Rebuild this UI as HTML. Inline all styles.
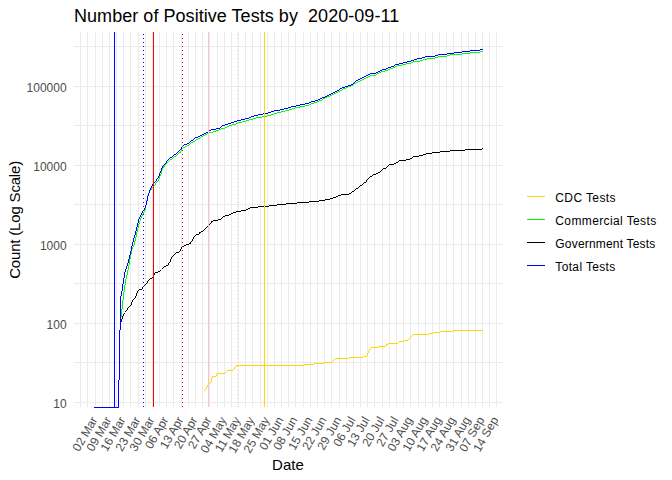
<!DOCTYPE html>
<html><head><meta charset="utf-8"><style>
html,body{margin:0;padding:0;background:#fff;width:672px;height:480px;overflow:hidden}
svg text{font-family:"Liberation Sans", sans-serif}
</style></head><body>
<svg width="672" height="480" viewBox="0 0 672 480" style="display:block">
<rect x="0" y="0" width="672" height="480" fill="#fff"/>
<g fill="#EBEBEB"><rect x="80" y="32" width="1" height="375"/><rect x="87" y="32" width="1" height="375"/><rect x="95" y="32" width="1" height="375"/><rect x="102" y="32" width="1" height="375"/><rect x="109" y="32" width="1" height="375"/><rect x="116" y="32" width="1" height="375"/><rect x="123" y="32" width="1" height="375"/><rect x="130" y="32" width="1" height="375"/><rect x="138" y="32" width="1" height="375"/><rect x="145" y="32" width="1" height="375"/><rect x="152" y="32" width="1" height="375"/><rect x="159" y="32" width="1" height="375"/><rect x="166" y="32" width="1" height="375"/><rect x="173" y="32" width="1" height="375"/><rect x="181" y="32" width="1" height="375"/><rect x="188" y="32" width="1" height="375"/><rect x="195" y="32" width="1" height="375"/><rect x="202" y="32" width="1" height="375"/><rect x="209" y="32" width="1" height="375"/><rect x="217" y="32" width="1" height="375"/><rect x="224" y="32" width="1" height="375"/><rect x="231" y="32" width="1" height="375"/><rect x="238" y="32" width="1" height="375"/><rect x="245" y="32" width="1" height="375"/><rect x="252" y="32" width="1" height="375"/><rect x="260" y="32" width="1" height="375"/><rect x="267" y="32" width="1" height="375"/><rect x="274" y="32" width="1" height="375"/><rect x="281" y="32" width="1" height="375"/><rect x="288" y="32" width="1" height="375"/><rect x="295" y="32" width="1" height="375"/><rect x="303" y="32" width="1" height="375"/><rect x="310" y="32" width="1" height="375"/><rect x="317" y="32" width="1" height="375"/><rect x="324" y="32" width="1" height="375"/><rect x="331" y="32" width="1" height="375"/><rect x="339" y="32" width="1" height="375"/><rect x="346" y="32" width="1" height="375"/><rect x="353" y="32" width="1" height="375"/><rect x="360" y="32" width="1" height="375"/><rect x="367" y="32" width="1" height="375"/><rect x="374" y="32" width="1" height="375"/><rect x="382" y="32" width="1" height="375"/><rect x="389" y="32" width="1" height="375"/><rect x="396" y="32" width="1" height="375"/><rect x="403" y="32" width="1" height="375"/><rect x="410" y="32" width="1" height="375"/><rect x="418" y="32" width="1" height="375"/><rect x="425" y="32" width="1" height="375"/><rect x="432" y="32" width="1" height="375"/><rect x="439" y="32" width="1" height="375"/><rect x="446" y="32" width="1" height="375"/><rect x="453" y="32" width="1" height="375"/><rect x="461" y="32" width="1" height="375"/><rect x="468" y="32" width="1" height="375"/><rect x="475" y="32" width="1" height="375"/><rect x="482" y="32" width="1" height="375"/><rect x="489" y="32" width="1" height="375"/><rect x="496" y="32" width="1" height="375"/><rect x="74" y="402" width="429" height="1"/><rect x="74" y="362" width="429" height="1"/><rect x="74" y="323" width="429" height="1"/><rect x="74" y="283" width="429" height="1"/><rect x="74" y="244" width="429" height="1"/><rect x="74" y="204" width="429" height="1"/><rect x="74" y="165" width="429" height="1"/><rect x="74" y="125" width="429" height="1"/><rect x="74" y="86" width="429" height="1"/><rect x="74" y="46" width="429" height="1"/></g>
<path d="M453 330h30v1h-30zM440 331h13v1h-13zM433 332h7v1h-7zM429 333h4v1h-4zM413 334h16v1h-16zM412 335h1v1h-1zM411 336h1v1h-1zM410 337h1v1h-1zM409 338h1v1h-1zM408 339h1v1h-1zM404 340h4v1h-4zM399 341h5v1h-5zM398 342h1v1h-1zM388 343h10v1h-10zM386 344h2v1h-2zM386 345h1v1h-1zM378 346h8v1h-8zM371 347h7v1h-7zM370 348h1v1h-1zM369 349h1v1h-1zM369 350h1v1h-1zM368 351h1v1h-1zM368 352h1v1h-1zM367 353h1v1h-1zM367 354h1v1h-1zM367 355h1v1h-1zM363 356h4v1h-4zM349 357h14v1h-14zM335 358h14v1h-14zM334 359h1v1h-1zM333 360h1v1h-1zM332 361h1v1h-1zM324 362h8v1h-8zM314 363h10v1h-10zM304 364h10v1h-10zM236 365h68v1h-68zM235 366h1v1h-1zM234 367h1v1h-1zM234 368h1v1h-1zM233 369h1v1h-1zM227 370h6v1h-6zM226 371h1v1h-1zM225 372h1v1h-1zM217 373h8v1h-8zM216 374h1v1h-1zM216 375h1v1h-1zM212 376h4v1h-4zM212 377h1v1h-1zM211 378h1v1h-1zM211 379h1v1h-1zM211 380h1v1h-1zM211 381h1v1h-1zM210 382h1v1h-1zM209 383h1v1h-1zM208 384h1v1h-1zM207 385h1v1h-1zM207 386h1v1h-1zM206 387h1v1h-1zM206 388h1v1h-1zM205 389h1v1h-1zM204 390h1v1h-1z" fill="#FFD700" shape-rendering="crispEdges"/>
<path d="M480 51h3v1h-3zM470 52h10v1h-10zM462 53h8v1h-8zM450 54h12v1h-12zM447 55h3v1h-3zM438 56h9v1h-9zM435 57h3v1h-3zM427 58h8v1h-8zM423 59h4v1h-4zM420 60h3v1h-3zM413 61h7v1h-7zM411 62h2v1h-2zM406 63h5v1h-5zM402 64h4v1h-4zM397 65h5v1h-5zM395 66h2v1h-2zM393 67h2v1h-2zM390 68h3v1h-3zM388 69h2v1h-2zM385 70h3v1h-3zM381 71h4v1h-4zM379 72h2v1h-2zM377 73h2v1h-2zM376 74h1v1h-1zM370 75h6v1h-6zM368 76h2v1h-2zM366 77h2v1h-2zM364 78h2v1h-2zM362 79h2v1h-2zM360 80h2v1h-2zM358 81h2v1h-2zM356 82h2v1h-2zM354 83h2v1h-2zM353 84h1v1h-1zM351 85h2v1h-2zM348 86h3v1h-3zM346 87h2v1h-2zM343 88h3v1h-3zM342 89h1v1h-1zM340 90h2v1h-2zM338 91h2v1h-2zM336 92h2v1h-2zM334 93h2v1h-2zM332 94h2v1h-2zM330 95h2v1h-2zM327 96h3v1h-3zM325 97h2v1h-2zM323 98h2v1h-2zM322 99h1v1h-1zM319 100h3v1h-3zM317 101h2v1h-2zM314 102h3v1h-3zM311 103h3v1h-3zM309 104h2v1h-2zM305 105h4v1h-4zM300 106h5v1h-5zM295 107h5v1h-5zM292 108h3v1h-3zM289 109h3v1h-3zM285 110h4v1h-4zM281 111h4v1h-4zM277 112h4v1h-4zM274 113h3v1h-3zM271 114h3v1h-3zM267 115h4v1h-4zM262 116h5v1h-5zM256 117h6v1h-6zM253 118h3v1h-3zM249 119h4v1h-4zM246 120h3v1h-3zM242 121h4v1h-4zM238 122h4v1h-4zM236 123h2v1h-2zM232 124h4v1h-4zM229 125h3v1h-3zM227 126h2v1h-2zM225 127h2v1h-2zM221 128h4v1h-4zM219 129h2v1h-2zM216 130h3v1h-3zM213 131h3v1h-3zM209 132h4v1h-4zM207 133h2v1h-2zM205 134h2v1h-2zM203 135h2v1h-2zM201 136h2v1h-2zM200 137h1v1h-1zM198 138h2v1h-2zM196 139h2v1h-2zM195 140h1v1h-1zM193 141h2v1h-2zM191 142h2v1h-2zM190 143h1v1h-1zM189 144h1v1h-1zM187 145h2v1h-2zM185 146h2v1h-2zM183 147h2v1h-2zM182 148h1v1h-1zM181 149h1v1h-1zM181 150h1v1h-1zM180 151h1v1h-1zM179 152h2v1h-2zM178 153h1v1h-1zM177 154h1v1h-1zM176 155h1v1h-1zM174 156h2v1h-2zM173 157h1v1h-1zM172 158h1v1h-1zM170 159h2v1h-2zM169 160h1v1h-1zM168 161h1v1h-1zM167 162h1v1h-1zM166 163h1v1h-1zM165 164h1v1h-1zM164 165h1v1h-1zM163 166h2v1h-2zM163 167h1v1h-1zM162 168h1v1h-1zM162 169h1v1h-1zM161 170h1v1h-1zM161 171h1v1h-1zM161 172h1v1h-1zM161 173h1v1h-1zM160 174h1v1h-1zM160 175h1v1h-1zM159 176h1v1h-1zM159 177h1v1h-1zM159 178h1v1h-1zM158 179h1v1h-1zM158 180h1v1h-1zM157 181h1v1h-1zM156 182h1v1h-1zM155 183h1v1h-1zM155 184h1v1h-1zM154 185h1v1h-1zM153 186h1v1h-1zM152 187h1v1h-1zM151 188h1v1h-1zM151 189h1v1h-1zM150 190h1v1h-1zM149 191h1v1h-1zM149 192h1v1h-1zM148 193h1v1h-1zM148 194h1v1h-1zM147 195h1v1h-1zM147 196h1v1h-1zM147 197h1v1h-1zM147 198h1v1h-1zM147 199h1v1h-1zM146 200h1v1h-1zM146 201h1v1h-1zM146 202h1v1h-1zM146 203h1v1h-1zM146 204h1v1h-1zM145 205h1v1h-1zM145 206h1v1h-1zM145 207h1v1h-1zM145 208h1v1h-1zM145 209h1v1h-1zM144 210h1v1h-1zM144 211h1v1h-1zM143 212h1v1h-1zM143 213h1v1h-1zM142 214h1v1h-1zM142 215h1v1h-1zM141 216h1v1h-1zM141 217h1v1h-1zM140 218h1v1h-1zM140 219h1v1h-1zM140 220h1v1h-1zM139 221h1v1h-1zM139 222h1v1h-1zM139 223h1v1h-1zM138 224h1v1h-1zM138 225h1v1h-1zM138 226h1v1h-1zM138 227h1v1h-1zM137 228h1v1h-1zM137 229h1v1h-1zM137 230h1v1h-1zM137 231h1v1h-1zM136 232h1v1h-1zM136 233h1v1h-1zM136 234h1v1h-1zM136 235h1v1h-1zM136 236h1v1h-1zM135 237h1v1h-1zM135 238h1v1h-1zM135 239h1v1h-1zM135 240h1v1h-1zM134 241h1v1h-1zM134 242h1v1h-1zM134 243h1v1h-1zM134 244h1v1h-1zM133 245h1v1h-1zM133 246h1v1h-1zM132 247h1v1h-1zM132 248h1v1h-1zM131 249h1v1h-1zM131 250h1v1h-1zM131 251h1v1h-1zM131 252h1v1h-1zM131 253h1v1h-1zM130 254h1v1h-1zM130 255h1v1h-1zM130 256h1v1h-1zM130 257h1v1h-1zM130 258h1v1h-1zM129 259h1v1h-1zM129 260h1v1h-1zM129 261h1v1h-1zM129 262h1v1h-1zM129 263h1v1h-1zM129 264h1v1h-1zM128 265h1v1h-1zM128 266h1v1h-1zM128 267h1v1h-1zM128 268h1v1h-1zM128 269h1v1h-1zM127 270h1v1h-1zM127 271h1v1h-1zM127 272h1v1h-1zM127 273h1v1h-1zM127 274h1v1h-1zM126 275h1v1h-1zM126 276h1v1h-1zM126 277h1v1h-1zM126 278h1v1h-1zM125 279h1v1h-1zM125 280h1v1h-1zM125 281h1v1h-1zM125 282h1v1h-1zM125 283h1v1h-1zM125 284h1v1h-1zM124 285h1v1h-1zM124 286h1v1h-1zM124 287h1v1h-1zM124 288h1v1h-1zM124 289h1v1h-1zM124 290h1v1h-1zM124 291h1v1h-1zM123 292h1v1h-1zM123 293h1v1h-1zM123 294h1v1h-1zM123 295h1v1h-1zM123 296h1v1h-1zM123 297h1v1h-1zM123 298h1v1h-1zM123 299h1v1h-1zM122 300h1v1h-1zM122 301h1v1h-1zM122 302h1v1h-1zM122 303h1v1h-1zM122 304h1v1h-1zM122 305h1v1h-1zM122 306h1v1h-1zM122 307h1v1h-1zM122 308h1v1h-1zM121 309h1v1h-1zM121 310h1v1h-1zM121 311h1v1h-1zM121 312h1v1h-1zM121 313h1v1h-1zM121 314h1v1h-1zM121 315h1v1h-1zM121 316h1v1h-1zM120 317h1v1h-1zM120 318h1v1h-1zM120 319h1v1h-1zM120 320h1v1h-1zM120 321h1v1h-1zM120 322h1v1h-1zM120 323h1v1h-1zM120 324h1v1h-1zM120 325h1v1h-1zM120 326h1v1h-1zM120 327h1v1h-1zM120 328h1v1h-1zM120 329h1v1h-1zM119 330h1v1h-1zM119 331h1v1h-1zM119 332h1v1h-1zM119 333h1v1h-1zM119 334h1v1h-1zM119 335h1v1h-1zM119 336h1v1h-1zM119 337h1v1h-1zM119 338h1v1h-1zM119 339h1v1h-1zM119 340h1v1h-1zM119 341h1v1h-1zM119 342h1v1h-1zM119 343h1v1h-1zM119 344h1v1h-1zM119 345h1v1h-1zM119 346h1v1h-1zM119 347h1v1h-1zM119 348h1v1h-1zM119 349h1v1h-1zM119 350h1v1h-1zM119 351h1v1h-1zM119 352h1v1h-1zM119 353h1v1h-1zM119 354h1v1h-1zM119 355h1v1h-1zM119 356h1v1h-1zM119 357h1v1h-1zM119 358h1v1h-1zM119 359h1v1h-1zM119 360h1v1h-1zM119 361h1v1h-1zM119 362h1v1h-1zM119 363h1v1h-1zM119 364h1v1h-1zM119 365h1v1h-1zM119 366h1v1h-1zM119 367h1v1h-1zM119 368h1v1h-1zM119 369h1v1h-1zM119 370h1v1h-1zM119 371h1v1h-1zM119 372h1v1h-1zM119 373h1v1h-1zM119 374h1v1h-1zM119 375h1v1h-1zM119 376h1v1h-1zM119 377h1v1h-1zM119 378h1v1h-1zM119 379h1v1h-1zM118 380h1v1h-1zM118 381h1v1h-1zM118 382h1v1h-1zM118 383h1v1h-1zM118 384h1v1h-1zM118 385h1v1h-1zM118 386h1v1h-1zM118 387h1v1h-1zM118 388h1v1h-1zM118 389h1v1h-1zM118 390h1v1h-1zM118 391h1v1h-1zM118 392h1v1h-1zM118 393h1v1h-1zM118 394h1v1h-1zM118 395h1v1h-1zM118 396h1v1h-1zM118 397h1v1h-1zM118 398h1v1h-1zM118 399h1v1h-1zM118 400h1v1h-1zM118 401h1v1h-1zM118 402h1v1h-1zM118 403h1v1h-1zM118 404h1v1h-1zM118 405h1v1h-1zM118 406h1v1h-1zM94 407h25v1h-25z" fill="#00FF00" shape-rendering="crispEdges"/>
<path d="M482 148h1v1h-1zM465 149h17v1h-17zM450 150h15v1h-15zM440 151h10v1h-10zM432 152h8v1h-8zM426 153h6v1h-6zM423 154h3v1h-3zM419 155h4v1h-4zM413 156h6v1h-6zM412 157h1v1h-1zM410 158h2v1h-2zM406 159h4v1h-4zM399 160h7v1h-7zM398 161h1v1h-1zM396 162h2v1h-2zM394 163h2v1h-2zM389 164h5v1h-5zM388 165h1v1h-1zM387 166h1v1h-1zM386 167h1v1h-1zM383 168h3v1h-3zM382 169h1v1h-1zM381 170h1v1h-1zM380 171h1v1h-1zM378 172h2v1h-2zM376 173h2v1h-2zM373 174h3v1h-3zM372 175h1v1h-1zM370 176h2v1h-2zM369 177h1v1h-1zM368 178h1v1h-1zM367 179h1v1h-1zM366 180h1v1h-1zM366 181h1v1h-1zM364 182h2v1h-2zM363 183h1v1h-1zM362 184h1v1h-1zM360 185h2v1h-2zM359 186h1v1h-1zM358 187h1v1h-1zM356 188h2v1h-2zM355 189h1v1h-1zM354 190h1v1h-1zM352 191h2v1h-2zM351 192h1v1h-1zM349 193h2v1h-2zM341 194h8v1h-8zM338 195h3v1h-3zM336 196h2v1h-2zM333 197h3v1h-3zM330 198h3v1h-3zM325 199h5v1h-5zM319 200h6v1h-6zM309 201h10v1h-10zM297 202h12v1h-12zM286 203h11v1h-11zM277 204h9v1h-9zM269 205h8v1h-8zM258 206h11v1h-11zM250 207h8v1h-8zM248 208h2v1h-2zM246 209h2v1h-2zM241 210h5v1h-5zM236 211h5v1h-5zM233 212h3v1h-3zM231 213h2v1h-2zM229 214h2v1h-2zM225 215h4v1h-4zM223 216h2v1h-2zM222 217h1v1h-1zM221 218h1v1h-1zM218 219h3v1h-3zM213 220h5v1h-5zM211 221h2v1h-2zM211 222h1v1h-1zM210 223h1v1h-1zM209 224h1v1h-1zM208 225h1v1h-1zM207 226h1v1h-1zM206 227h1v1h-1zM205 228h1v1h-1zM204 229h1v1h-1zM203 230h1v1h-1zM201 231h2v1h-2zM199 232h2v1h-2zM199 233h1v1h-1zM196 234h3v1h-3zM195 235h1v1h-1zM194 236h1v1h-1zM193 237h1v1h-1zM193 238h1v1h-1zM192 239h1v1h-1zM192 240h1v1h-1zM191 241h1v1h-1zM190 242h1v1h-1zM189 243h2v1h-2zM186 244h3v1h-3zM184 245h2v1h-2zM182 246h2v1h-2zM181 247h1v1h-1zM181 248h1v1h-1zM180 249h1v1h-1zM180 250h1v1h-1zM179 251h1v1h-1zM176 252h3v1h-3zM175 253h1v1h-1zM174 254h1v1h-1zM173 255h1v1h-1zM172 256h1v1h-1zM171 257h1v1h-1zM171 258h1v1h-1zM170 259h1v1h-1zM170 260h1v1h-1zM170 261h1v1h-1zM169 262h1v1h-1zM168 263h1v1h-1zM168 264h1v1h-1zM166 265h2v1h-2zM164 266h2v1h-2zM163 267h1v1h-1zM162 268h1v1h-1zM160 270h1v1h-1zM158 271h2v1h-2zM155 272h3v1h-3zM154 273h1v1h-1zM154 274h1v1h-1zM153 275h1v1h-1zM153 276h1v1h-1zM152 277h1v1h-1zM150 278h2v1h-2zM149 279h1v1h-1zM148 280h1v1h-1zM147 281h1v1h-1zM147 282h1v1h-1zM146 283h1v1h-1zM145 284h1v1h-1zM144 285h1v1h-1zM143 286h1v1h-1zM142 287h1v1h-1zM142 288h1v1h-1zM139 289h3v1h-3zM138 290h1v1h-1zM137 291h1v1h-1zM137 292h1v1h-1zM136 293h1v1h-1zM136 294h1v1h-1zM136 295h1v1h-1zM135 296h1v1h-1zM135 297h1v1h-1zM134 298h1v1h-1zM133 299h1v1h-1zM132 300h1v1h-1zM132 301h1v1h-1zM131 302h1v1h-1zM131 303h1v1h-1zM131 304h1v1h-1zM130 305h1v1h-1zM129 306h1v1h-1zM128 307h1v1h-1zM127 308h1v1h-1zM127 309h1v1h-1zM126 310h1v1h-1zM125 311h1v1h-1zM124 313h1v1h-1zM123 314h1v1h-1zM123 315h1v1h-1zM122 316h1v1h-1zM122 317h1v1h-1zM122 318h1v1h-1zM121 319h1v1h-1zM121 320h1v1h-1zM121 321h1v1h-1zM120 322h1v1h-1zM120 323h1v1h-1zM120 324h1v1h-1zM120 325h1v1h-1zM120 326h1v1h-1zM120 327h1v1h-1zM120 328h1v1h-1zM120 329h1v1h-1zM119 330h1v1h-1zM119 331h1v1h-1zM119 332h1v1h-1zM119 333h1v1h-1zM119 334h1v1h-1zM119 335h1v1h-1zM119 336h1v1h-1zM119 337h1v1h-1zM119 338h1v1h-1zM119 339h1v1h-1zM119 340h1v1h-1zM119 341h1v1h-1zM119 342h1v1h-1zM119 343h1v1h-1zM119 344h1v1h-1zM119 345h1v1h-1zM119 346h1v1h-1zM119 347h1v1h-1zM119 348h1v1h-1zM119 349h1v1h-1zM119 350h1v1h-1zM119 351h1v1h-1zM119 352h1v1h-1zM119 353h1v1h-1zM119 354h1v1h-1zM119 355h1v1h-1zM119 356h1v1h-1zM119 357h1v1h-1zM119 358h1v1h-1zM119 359h1v1h-1zM119 360h1v1h-1zM119 361h1v1h-1zM119 362h1v1h-1zM119 363h1v1h-1zM119 364h1v1h-1zM119 365h1v1h-1zM119 366h1v1h-1zM119 367h1v1h-1zM119 368h1v1h-1zM119 369h1v1h-1zM119 370h1v1h-1zM119 371h1v1h-1zM119 372h1v1h-1zM119 373h1v1h-1zM119 374h1v1h-1zM119 375h1v1h-1zM119 376h1v1h-1zM119 377h1v1h-1zM119 378h1v1h-1zM119 379h1v1h-1zM118 380h1v1h-1zM118 381h1v1h-1zM118 382h1v1h-1zM118 383h1v1h-1zM118 384h1v1h-1zM118 385h1v1h-1zM118 386h1v1h-1zM118 387h1v1h-1zM118 388h1v1h-1zM118 389h1v1h-1zM118 390h1v1h-1zM118 391h1v1h-1zM118 392h1v1h-1zM118 393h1v1h-1zM118 394h1v1h-1zM118 395h1v1h-1zM118 396h1v1h-1zM118 397h1v1h-1zM118 398h1v1h-1zM118 399h1v1h-1zM118 400h1v1h-1zM118 401h1v1h-1zM118 402h1v1h-1zM118 403h1v1h-1zM118 404h1v1h-1zM118 405h1v1h-1zM118 406h1v1h-1zM94 407h25v1h-25z" fill="#000000" shape-rendering="crispEdges"/>
<path d="M480 49h3v1h-3zM470 50h10v1h-10zM462 51h8v1h-8zM454 52h8v1h-8zM447 53h7v1h-7zM438 54h9v1h-9zM435 55h3v1h-3zM425 56h10v1h-10zM422 57h3v1h-3zM417 58h5v1h-5zM414 59h3v1h-3zM411 60h3v1h-3zM407 61h4v1h-4zM403 62h4v1h-4zM399 63h4v1h-4zM395 64h4v1h-4zM394 65h1v1h-1zM391 66h3v1h-3zM388 67h3v1h-3zM386 68h2v1h-2zM382 69h4v1h-4zM380 70h2v1h-2zM378 71h2v1h-2zM376 72h2v1h-2zM370 73h6v1h-6zM368 74h2v1h-2zM366 75h2v1h-2zM364 76h2v1h-2zM362 77h2v1h-2zM360 78h2v1h-2zM358 79h2v1h-2zM356 80h2v1h-2zM355 81h1v1h-1zM354 82h1v1h-1zM353 83h1v1h-1zM351 84h2v1h-2zM348 85h3v1h-3zM345 86h3v1h-3zM342 87h3v1h-3zM340 88h2v1h-2zM339 89h1v1h-1zM337 90h2v1h-2zM335 91h2v1h-2zM333 92h2v1h-2zM331 93h2v1h-2zM329 94h2v1h-2zM327 95h2v1h-2zM325 96h2v1h-2zM322 97h3v1h-3zM320 98h2v1h-2zM318 99h2v1h-2zM315 100h3v1h-3zM311 101h4v1h-4zM309 102h2v1h-2zM305 103h4v1h-4zM300 104h5v1h-5zM296 105h4v1h-4zM291 106h5v1h-5zM288 107h3v1h-3zM284 108h4v1h-4zM280 109h4v1h-4zM274 110h6v1h-6zM271 111h3v1h-3zM268 112h3v1h-3zM263 113h5v1h-5zM258 114h5v1h-5zM254 115h4v1h-4zM251 116h3v1h-3zM249 117h2v1h-2zM245 118h4v1h-4zM241 119h4v1h-4zM237 120h4v1h-4zM234 121h3v1h-3zM231 122h3v1h-3zM228 123h3v1h-3zM225 124h3v1h-3zM222 125h3v1h-3zM221 126h1v1h-1zM220 127h1v1h-1zM216 128h4v1h-4zM211 129h5v1h-5zM209 130h2v1h-2zM208 131h1v1h-1zM206 132h2v1h-2zM204 133h2v1h-2zM202 134h2v1h-2zM200 135h2v1h-2zM198 136h2v1h-2zM195 137h3v1h-3zM194 138h1v1h-1zM193 139h1v1h-1zM191 140h2v1h-2zM190 141h1v1h-1zM189 142h1v1h-1zM187 143h2v1h-2zM184 144h3v1h-3zM183 145h1v1h-1zM182 146h1v1h-1zM181 147h1v1h-1zM181 148h1v1h-1zM180 149h1v1h-1zM179 150h1v1h-1zM178 151h1v1h-1zM177 152h1v1h-1zM176 153h1v1h-1zM174 154h2v1h-2zM173 155h1v1h-1zM172 156h1v1h-1zM170 157h2v1h-2zM169 158h1v1h-1zM168 159h1v1h-1zM167 160h1v1h-1zM166 161h1v1h-1zM166 162h1v1h-1zM165 163h1v1h-1zM164 164h1v1h-1zM163 165h1v1h-1zM162 166h1v1h-1zM162 167h1v1h-1zM161 168h1v1h-1zM161 169h1v1h-1zM161 170h1v1h-1zM160 171h1v1h-1zM160 172h1v1h-1zM159 173h1v1h-1zM159 174h1v1h-1zM159 175h1v1h-1zM158 176h1v1h-1zM158 177h1v1h-1zM157 178h1v1h-1zM156 179h1v1h-1zM156 180h1v1h-1zM155 181h1v1h-1zM154 182h1v1h-1zM153 183h1v1h-1zM152 184h1v1h-1zM152 185h1v1h-1zM151 186h1v1h-1zM151 187h1v1h-1zM150 188h1v1h-1zM150 189h1v1h-1zM149 190h1v1h-1zM149 191h1v1h-1zM149 192h1v1h-1zM148 193h1v1h-1zM148 194h1v1h-1zM148 195h1v1h-1zM147 196h1v1h-1zM147 197h1v1h-1zM147 198h1v1h-1zM147 199h1v1h-1zM147 200h1v1h-1zM146 201h1v1h-1zM146 202h1v1h-1zM146 203h1v1h-1zM146 204h1v1h-1zM145 205h1v1h-1zM145 206h1v1h-1zM145 207h1v1h-1zM144 208h1v1h-1zM144 209h1v1h-1zM143 210h1v1h-1zM142 211h1v1h-1zM142 212h1v1h-1zM141 213h1v1h-1zM141 214h1v1h-1zM140 215h1v1h-1zM140 216h1v1h-1zM139 217h1v1h-1zM139 218h1v1h-1zM138 219h1v1h-1zM138 220h1v1h-1zM138 221h1v1h-1zM138 222h1v1h-1zM137 223h1v1h-1zM137 224h1v1h-1zM137 225h1v1h-1zM137 226h1v1h-1zM136 227h1v1h-1zM136 228h1v1h-1zM136 229h1v1h-1zM136 230h1v1h-1zM135 231h1v1h-1zM135 232h1v1h-1zM135 233h1v1h-1zM135 234h1v1h-1zM134 235h1v1h-1zM134 236h1v1h-1zM134 237h1v1h-1zM133 238h1v1h-1zM133 239h1v1h-1zM133 240h1v1h-1zM133 241h1v1h-1zM132 242h1v1h-1zM132 243h1v1h-1zM132 244h1v1h-1zM132 245h1v1h-1zM131 246h1v1h-1zM131 247h1v1h-1zM131 248h1v1h-1zM131 249h1v1h-1zM131 250h1v1h-1zM130 251h1v1h-1zM130 252h1v1h-1zM130 253h1v1h-1zM130 254h1v1h-1zM129 255h1v1h-1zM129 256h1v1h-1zM129 257h1v1h-1zM129 258h1v1h-1zM128 259h1v1h-1zM128 260h1v1h-1zM128 261h1v1h-1zM128 262h1v1h-1zM127 263h1v1h-1zM127 264h1v1h-1zM127 265h1v1h-1zM126 266h1v1h-1zM126 267h1v1h-1zM126 268h1v1h-1zM125 269h1v1h-1zM125 270h1v1h-1zM125 271h1v1h-1zM124 272h1v1h-1zM124 273h1v1h-1zM124 274h1v1h-1zM124 275h1v1h-1zM124 276h1v1h-1zM124 277h1v1h-1zM123 278h1v1h-1zM123 279h1v1h-1zM123 280h1v1h-1zM123 281h1v1h-1zM123 282h1v1h-1zM123 283h1v1h-1zM122 284h1v1h-1zM122 285h1v1h-1zM122 286h1v1h-1zM122 287h1v1h-1zM122 288h1v1h-1zM122 289h1v1h-1zM122 290h1v1h-1zM121 291h1v1h-1zM121 292h1v1h-1zM121 293h1v1h-1zM121 294h1v1h-1zM121 295h1v1h-1zM120 296h1v1h-1zM120 297h1v1h-1zM120 298h1v1h-1zM120 299h1v1h-1zM120 300h1v1h-1zM120 301h1v1h-1zM120 302h1v1h-1zM120 303h1v1h-1zM120 304h1v1h-1zM120 305h1v1h-1zM120 306h1v1h-1zM120 307h1v1h-1zM120 308h1v1h-1zM120 309h1v1h-1zM120 310h1v1h-1zM120 311h1v1h-1zM120 312h1v1h-1zM120 313h1v1h-1zM120 314h1v1h-1zM120 315h1v1h-1zM120 316h1v1h-1zM120 317h1v1h-1zM120 318h1v1h-1zM120 319h1v1h-1zM120 320h1v1h-1zM120 321h1v1h-1zM120 322h1v1h-1zM120 323h1v1h-1zM120 324h1v1h-1zM120 325h1v1h-1zM120 326h1v1h-1zM120 327h1v1h-1zM120 328h1v1h-1zM120 329h1v1h-1zM119 330h1v1h-1zM119 331h1v1h-1zM119 332h1v1h-1zM119 333h1v1h-1zM119 334h1v1h-1zM119 335h1v1h-1zM119 336h1v1h-1zM119 337h1v1h-1zM119 338h1v1h-1zM119 339h1v1h-1zM119 340h1v1h-1zM119 341h1v1h-1zM119 342h1v1h-1zM119 343h1v1h-1zM119 344h1v1h-1zM119 345h1v1h-1zM119 346h1v1h-1zM119 347h1v1h-1zM119 348h1v1h-1zM119 349h1v1h-1zM119 350h1v1h-1zM119 351h1v1h-1zM119 352h1v1h-1zM119 353h1v1h-1zM119 354h1v1h-1zM119 355h1v1h-1zM119 356h1v1h-1zM119 357h1v1h-1zM119 358h1v1h-1zM119 359h1v1h-1zM119 360h1v1h-1zM119 361h1v1h-1zM119 362h1v1h-1zM119 363h1v1h-1zM119 364h1v1h-1zM119 365h1v1h-1zM119 366h1v1h-1zM119 367h1v1h-1zM119 368h1v1h-1zM119 369h1v1h-1zM119 370h1v1h-1zM119 371h1v1h-1zM119 372h1v1h-1zM119 373h1v1h-1zM119 374h1v1h-1zM119 375h1v1h-1zM119 376h1v1h-1zM119 377h1v1h-1zM119 378h1v1h-1zM119 379h1v1h-1zM118 380h1v1h-1zM118 381h1v1h-1zM118 382h1v1h-1zM118 383h1v1h-1zM118 384h1v1h-1zM118 385h1v1h-1zM118 386h1v1h-1zM118 387h1v1h-1zM118 388h1v1h-1zM118 389h1v1h-1zM118 390h1v1h-1zM118 391h1v1h-1zM118 392h1v1h-1zM118 393h1v1h-1zM118 394h1v1h-1zM118 395h1v1h-1zM118 396h1v1h-1zM118 397h1v1h-1zM118 398h1v1h-1zM118 399h1v1h-1zM118 400h1v1h-1zM118 401h1v1h-1zM118 402h1v1h-1zM118 403h1v1h-1zM118 404h1v1h-1zM118 405h1v1h-1zM118 406h1v1h-1zM94 407h25v1h-25z" fill="#0000FF" shape-rendering="crispEdges"/>
<rect x="114" y="32" width="1" height="375" fill="#0000FF"/>
<g fill="#0000FF"><rect x="143" y="406" width="1" height="1"/><rect x="143" y="402" width="1" height="1"/><rect x="143" y="398" width="1" height="1"/><rect x="143" y="394" width="1" height="1"/><rect x="143" y="390" width="1" height="1"/><rect x="143" y="386" width="1" height="1"/><rect x="143" y="382" width="1" height="1"/><rect x="143" y="378" width="1" height="1"/><rect x="143" y="374" width="1" height="1"/><rect x="143" y="370" width="1" height="1"/><rect x="143" y="366" width="1" height="1"/><rect x="143" y="362" width="1" height="1"/><rect x="143" y="358" width="1" height="1"/><rect x="143" y="354" width="1" height="1"/><rect x="143" y="350" width="1" height="1"/><rect x="143" y="346" width="1" height="1"/><rect x="143" y="342" width="1" height="1"/><rect x="143" y="338" width="1" height="1"/><rect x="143" y="334" width="1" height="1"/><rect x="143" y="330" width="1" height="1"/><rect x="143" y="326" width="1" height="1"/><rect x="143" y="322" width="1" height="1"/><rect x="143" y="318" width="1" height="1"/><rect x="143" y="314" width="1" height="1"/><rect x="143" y="310" width="1" height="1"/><rect x="143" y="306" width="1" height="1"/><rect x="143" y="302" width="1" height="1"/><rect x="143" y="298" width="1" height="1"/><rect x="143" y="294" width="1" height="1"/><rect x="143" y="290" width="1" height="1"/><rect x="143" y="286" width="1" height="1"/><rect x="143" y="282" width="1" height="1"/><rect x="143" y="278" width="1" height="1"/><rect x="143" y="274" width="1" height="1"/><rect x="143" y="270" width="1" height="1"/><rect x="143" y="266" width="1" height="1"/><rect x="143" y="262" width="1" height="1"/><rect x="143" y="258" width="1" height="1"/><rect x="143" y="254" width="1" height="1"/><rect x="143" y="250" width="1" height="1"/><rect x="143" y="246" width="1" height="1"/><rect x="143" y="242" width="1" height="1"/><rect x="143" y="238" width="1" height="1"/><rect x="143" y="234" width="1" height="1"/><rect x="143" y="230" width="1" height="1"/><rect x="143" y="226" width="1" height="1"/><rect x="143" y="222" width="1" height="1"/><rect x="143" y="218" width="1" height="1"/><rect x="143" y="214" width="1" height="1"/><rect x="143" y="210" width="1" height="1"/><rect x="143" y="206" width="1" height="1"/><rect x="143" y="202" width="1" height="1"/><rect x="143" y="198" width="1" height="1"/><rect x="143" y="194" width="1" height="1"/><rect x="143" y="190" width="1" height="1"/><rect x="143" y="186" width="1" height="1"/><rect x="143" y="182" width="1" height="1"/><rect x="143" y="178" width="1" height="1"/><rect x="143" y="174" width="1" height="1"/><rect x="143" y="170" width="1" height="1"/><rect x="143" y="166" width="1" height="1"/><rect x="143" y="162" width="1" height="1"/><rect x="143" y="158" width="1" height="1"/><rect x="143" y="154" width="1" height="1"/><rect x="143" y="150" width="1" height="1"/><rect x="143" y="146" width="1" height="1"/><rect x="143" y="142" width="1" height="1"/><rect x="143" y="138" width="1" height="1"/><rect x="143" y="134" width="1" height="1"/><rect x="143" y="130" width="1" height="1"/><rect x="143" y="126" width="1" height="1"/><rect x="143" y="122" width="1" height="1"/><rect x="143" y="118" width="1" height="1"/><rect x="143" y="114" width="1" height="1"/><rect x="143" y="110" width="1" height="1"/><rect x="143" y="106" width="1" height="1"/><rect x="143" y="102" width="1" height="1"/><rect x="143" y="98" width="1" height="1"/><rect x="143" y="94" width="1" height="1"/><rect x="143" y="90" width="1" height="1"/><rect x="143" y="86" width="1" height="1"/><rect x="143" y="82" width="1" height="1"/><rect x="143" y="78" width="1" height="1"/><rect x="143" y="74" width="1" height="1"/><rect x="143" y="70" width="1" height="1"/><rect x="143" y="66" width="1" height="1"/><rect x="143" y="62" width="1" height="1"/><rect x="143" y="58" width="1" height="1"/><rect x="143" y="54" width="1" height="1"/><rect x="143" y="50" width="1" height="1"/><rect x="143" y="46" width="1" height="1"/><rect x="143" y="42" width="1" height="1"/><rect x="143" y="38" width="1" height="1"/><rect x="143" y="34" width="1" height="1"/></g>
<rect x="153" y="32" width="1" height="375" fill="#FF0000"/>
<g fill="#FF0000"><rect x="182" y="406" width="1" height="1"/><rect x="182" y="402" width="1" height="1"/><rect x="182" y="398" width="1" height="1"/><rect x="182" y="394" width="1" height="1"/><rect x="182" y="390" width="1" height="1"/><rect x="182" y="386" width="1" height="1"/><rect x="182" y="382" width="1" height="1"/><rect x="182" y="378" width="1" height="1"/><rect x="182" y="374" width="1" height="1"/><rect x="182" y="370" width="1" height="1"/><rect x="182" y="366" width="1" height="1"/><rect x="182" y="362" width="1" height="1"/><rect x="182" y="358" width="1" height="1"/><rect x="182" y="354" width="1" height="1"/><rect x="182" y="350" width="1" height="1"/><rect x="182" y="346" width="1" height="1"/><rect x="182" y="342" width="1" height="1"/><rect x="182" y="338" width="1" height="1"/><rect x="182" y="334" width="1" height="1"/><rect x="182" y="330" width="1" height="1"/><rect x="182" y="326" width="1" height="1"/><rect x="182" y="322" width="1" height="1"/><rect x="182" y="318" width="1" height="1"/><rect x="182" y="314" width="1" height="1"/><rect x="182" y="310" width="1" height="1"/><rect x="182" y="306" width="1" height="1"/><rect x="182" y="302" width="1" height="1"/><rect x="182" y="298" width="1" height="1"/><rect x="182" y="294" width="1" height="1"/><rect x="182" y="290" width="1" height="1"/><rect x="182" y="286" width="1" height="1"/><rect x="182" y="282" width="1" height="1"/><rect x="182" y="278" width="1" height="1"/><rect x="182" y="274" width="1" height="1"/><rect x="182" y="270" width="1" height="1"/><rect x="182" y="266" width="1" height="1"/><rect x="182" y="262" width="1" height="1"/><rect x="182" y="258" width="1" height="1"/><rect x="182" y="254" width="1" height="1"/><rect x="182" y="250" width="1" height="1"/><rect x="182" y="246" width="1" height="1"/><rect x="182" y="242" width="1" height="1"/><rect x="182" y="238" width="1" height="1"/><rect x="182" y="234" width="1" height="1"/><rect x="182" y="230" width="1" height="1"/><rect x="182" y="226" width="1" height="1"/><rect x="182" y="222" width="1" height="1"/><rect x="182" y="218" width="1" height="1"/><rect x="182" y="214" width="1" height="1"/><rect x="182" y="210" width="1" height="1"/><rect x="182" y="206" width="1" height="1"/><rect x="182" y="202" width="1" height="1"/><rect x="182" y="198" width="1" height="1"/><rect x="182" y="194" width="1" height="1"/><rect x="182" y="190" width="1" height="1"/><rect x="182" y="186" width="1" height="1"/><rect x="182" y="182" width="1" height="1"/><rect x="182" y="178" width="1" height="1"/><rect x="182" y="174" width="1" height="1"/><rect x="182" y="170" width="1" height="1"/><rect x="182" y="166" width="1" height="1"/><rect x="182" y="162" width="1" height="1"/><rect x="182" y="158" width="1" height="1"/><rect x="182" y="154" width="1" height="1"/><rect x="182" y="150" width="1" height="1"/><rect x="182" y="146" width="1" height="1"/><rect x="182" y="142" width="1" height="1"/><rect x="182" y="138" width="1" height="1"/><rect x="182" y="134" width="1" height="1"/><rect x="182" y="130" width="1" height="1"/><rect x="182" y="126" width="1" height="1"/><rect x="182" y="122" width="1" height="1"/><rect x="182" y="118" width="1" height="1"/><rect x="182" y="114" width="1" height="1"/><rect x="182" y="110" width="1" height="1"/><rect x="182" y="106" width="1" height="1"/><rect x="182" y="102" width="1" height="1"/><rect x="182" y="98" width="1" height="1"/><rect x="182" y="94" width="1" height="1"/><rect x="182" y="90" width="1" height="1"/><rect x="182" y="86" width="1" height="1"/><rect x="182" y="82" width="1" height="1"/><rect x="182" y="78" width="1" height="1"/><rect x="182" y="74" width="1" height="1"/><rect x="182" y="70" width="1" height="1"/><rect x="182" y="66" width="1" height="1"/><rect x="182" y="62" width="1" height="1"/><rect x="182" y="58" width="1" height="1"/><rect x="182" y="54" width="1" height="1"/><rect x="182" y="50" width="1" height="1"/><rect x="182" y="46" width="1" height="1"/><rect x="182" y="42" width="1" height="1"/><rect x="182" y="38" width="1" height="1"/><rect x="182" y="34" width="1" height="1"/></g>
<rect x="208" y="32" width="1" height="375" fill="#FFC0CB"/>
<g fill="#FFC0CB"><rect x="237" y="406" width="1" height="1"/><rect x="237" y="402" width="1" height="1"/><rect x="237" y="398" width="1" height="1"/><rect x="237" y="394" width="1" height="1"/><rect x="237" y="390" width="1" height="1"/><rect x="237" y="386" width="1" height="1"/><rect x="237" y="382" width="1" height="1"/><rect x="237" y="378" width="1" height="1"/><rect x="237" y="374" width="1" height="1"/><rect x="237" y="370" width="1" height="1"/><rect x="237" y="366" width="1" height="1"/><rect x="237" y="362" width="1" height="1"/><rect x="237" y="358" width="1" height="1"/><rect x="237" y="354" width="1" height="1"/><rect x="237" y="350" width="1" height="1"/><rect x="237" y="346" width="1" height="1"/><rect x="237" y="342" width="1" height="1"/><rect x="237" y="338" width="1" height="1"/><rect x="237" y="334" width="1" height="1"/><rect x="237" y="330" width="1" height="1"/><rect x="237" y="326" width="1" height="1"/><rect x="237" y="322" width="1" height="1"/><rect x="237" y="318" width="1" height="1"/><rect x="237" y="314" width="1" height="1"/><rect x="237" y="310" width="1" height="1"/><rect x="237" y="306" width="1" height="1"/><rect x="237" y="302" width="1" height="1"/><rect x="237" y="298" width="1" height="1"/><rect x="237" y="294" width="1" height="1"/><rect x="237" y="290" width="1" height="1"/><rect x="237" y="286" width="1" height="1"/><rect x="237" y="282" width="1" height="1"/><rect x="237" y="278" width="1" height="1"/><rect x="237" y="274" width="1" height="1"/><rect x="237" y="270" width="1" height="1"/><rect x="237" y="266" width="1" height="1"/><rect x="237" y="262" width="1" height="1"/><rect x="237" y="258" width="1" height="1"/><rect x="237" y="254" width="1" height="1"/><rect x="237" y="250" width="1" height="1"/><rect x="237" y="246" width="1" height="1"/><rect x="237" y="242" width="1" height="1"/><rect x="237" y="238" width="1" height="1"/><rect x="237" y="234" width="1" height="1"/><rect x="237" y="230" width="1" height="1"/><rect x="237" y="226" width="1" height="1"/><rect x="237" y="222" width="1" height="1"/><rect x="237" y="218" width="1" height="1"/><rect x="237" y="214" width="1" height="1"/><rect x="237" y="210" width="1" height="1"/><rect x="237" y="206" width="1" height="1"/><rect x="237" y="202" width="1" height="1"/><rect x="237" y="198" width="1" height="1"/><rect x="237" y="194" width="1" height="1"/><rect x="237" y="190" width="1" height="1"/><rect x="237" y="186" width="1" height="1"/><rect x="237" y="182" width="1" height="1"/><rect x="237" y="178" width="1" height="1"/><rect x="237" y="174" width="1" height="1"/><rect x="237" y="170" width="1" height="1"/><rect x="237" y="166" width="1" height="1"/><rect x="237" y="162" width="1" height="1"/><rect x="237" y="158" width="1" height="1"/><rect x="237" y="154" width="1" height="1"/><rect x="237" y="150" width="1" height="1"/><rect x="237" y="146" width="1" height="1"/><rect x="237" y="142" width="1" height="1"/><rect x="237" y="138" width="1" height="1"/><rect x="237" y="134" width="1" height="1"/><rect x="237" y="130" width="1" height="1"/><rect x="237" y="126" width="1" height="1"/><rect x="237" y="122" width="1" height="1"/><rect x="237" y="118" width="1" height="1"/><rect x="237" y="114" width="1" height="1"/><rect x="237" y="110" width="1" height="1"/><rect x="237" y="106" width="1" height="1"/><rect x="237" y="102" width="1" height="1"/><rect x="237" y="98" width="1" height="1"/><rect x="237" y="94" width="1" height="1"/><rect x="237" y="90" width="1" height="1"/><rect x="237" y="86" width="1" height="1"/><rect x="237" y="82" width="1" height="1"/><rect x="237" y="78" width="1" height="1"/><rect x="237" y="74" width="1" height="1"/><rect x="237" y="70" width="1" height="1"/><rect x="237" y="66" width="1" height="1"/><rect x="237" y="62" width="1" height="1"/><rect x="237" y="58" width="1" height="1"/><rect x="237" y="54" width="1" height="1"/><rect x="237" y="50" width="1" height="1"/><rect x="237" y="46" width="1" height="1"/><rect x="237" y="42" width="1" height="1"/><rect x="237" y="38" width="1" height="1"/><rect x="237" y="34" width="1" height="1"/></g>
<rect x="264" y="32" width="1" height="375" fill="#FFD700"/>
<text x="66.6" y="408" text-anchor="end" font-size="12" fill="#4D4D4D">10</text>
<text x="66.6" y="329" text-anchor="end" font-size="12" fill="#4D4D4D">100</text>
<text x="66.6" y="250" text-anchor="end" font-size="12" fill="#4D4D4D">1000</text>
<text x="66.6" y="171" text-anchor="end" font-size="12" fill="#4D4D4D">10000</text>
<text x="66.6" y="92" text-anchor="end" font-size="12" fill="#4D4D4D">100000</text>
<text transform="translate(97.8,419.8) rotate(-60)" text-anchor="end" font-size="12" fill="#4D4D4D">02 Mar</text>
<text transform="translate(111.8,419.8) rotate(-60)" text-anchor="end" font-size="12" fill="#4D4D4D">09 Mar</text>
<text transform="translate(125.8,419.8) rotate(-60)" text-anchor="end" font-size="12" fill="#4D4D4D">16 Mar</text>
<text transform="translate(140.8,419.8) rotate(-60)" text-anchor="end" font-size="12" fill="#4D4D4D">23 Mar</text>
<text transform="translate(154.8,419.8) rotate(-60)" text-anchor="end" font-size="12" fill="#4D4D4D">30 Mar</text>
<text transform="translate(168.8,419.8) rotate(-60)" text-anchor="end" font-size="12" fill="#4D4D4D">06 Apr</text>
<text transform="translate(183.8,419.8) rotate(-60)" text-anchor="end" font-size="12" fill="#4D4D4D">13 Apr</text>
<text transform="translate(197.8,419.8) rotate(-60)" text-anchor="end" font-size="12" fill="#4D4D4D">20 Apr</text>
<text transform="translate(211.8,419.8) rotate(-60)" text-anchor="end" font-size="12" fill="#4D4D4D">27 Apr</text>
<text transform="translate(226.8,419.8) rotate(-60)" text-anchor="end" font-size="12" fill="#4D4D4D">04 May</text>
<text transform="translate(240.8,419.8) rotate(-60)" text-anchor="end" font-size="12" fill="#4D4D4D">11 May</text>
<text transform="translate(254.8,419.8) rotate(-60)" text-anchor="end" font-size="12" fill="#4D4D4D">18 May</text>
<text transform="translate(269.8,419.8) rotate(-60)" text-anchor="end" font-size="12" fill="#4D4D4D">25 May</text>
<text transform="translate(283.8,419.8) rotate(-60)" text-anchor="end" font-size="12" fill="#4D4D4D">01 Jun</text>
<text transform="translate(297.8,419.8) rotate(-60)" text-anchor="end" font-size="12" fill="#4D4D4D">08 Jun</text>
<text transform="translate(312.8,419.8) rotate(-60)" text-anchor="end" font-size="12" fill="#4D4D4D">15 Jun</text>
<text transform="translate(326.8,419.8) rotate(-60)" text-anchor="end" font-size="12" fill="#4D4D4D">22 Jun</text>
<text transform="translate(341.8,419.8) rotate(-60)" text-anchor="end" font-size="12" fill="#4D4D4D">29 Jun</text>
<text transform="translate(355.8,419.8) rotate(-60)" text-anchor="end" font-size="12" fill="#4D4D4D">06 Jul</text>
<text transform="translate(369.8,419.8) rotate(-60)" text-anchor="end" font-size="12" fill="#4D4D4D">13 Jul</text>
<text transform="translate(384.8,419.8) rotate(-60)" text-anchor="end" font-size="12" fill="#4D4D4D">20 Jul</text>
<text transform="translate(398.8,419.8) rotate(-60)" text-anchor="end" font-size="12" fill="#4D4D4D">27 Jul</text>
<text transform="translate(412.8,419.8) rotate(-60)" text-anchor="end" font-size="12" fill="#4D4D4D">03 Aug</text>
<text transform="translate(427.8,419.8) rotate(-60)" text-anchor="end" font-size="12" fill="#4D4D4D">10 Aug</text>
<text transform="translate(441.8,419.8) rotate(-60)" text-anchor="end" font-size="12" fill="#4D4D4D">17 Aug</text>
<text transform="translate(455.8,419.8) rotate(-60)" text-anchor="end" font-size="12" fill="#4D4D4D">24 Aug</text>
<text transform="translate(470.8,419.8) rotate(-60)" text-anchor="end" font-size="12" fill="#4D4D4D">31 Aug</text>
<text transform="translate(484.8,419.8) rotate(-60)" text-anchor="end" font-size="12" fill="#4D4D4D">07 Sep</text>
<text transform="translate(498.8,419.8) rotate(-60)" text-anchor="end" font-size="12" fill="#4D4D4D">14 Sep</text>
<text x="74.0" y="22" font-size="18" fill="#000" textLength="325.2" lengthAdjust="spacing">Number of Positive Tests by&#160;&#160;2020-09-11</text>
<text x="287.9" y="470" text-anchor="middle" font-size="15" fill="#000">Date</text>
<text transform="translate(20,219.8) rotate(-90)" text-anchor="middle" font-size="15" fill="#000" textLength="118" lengthAdjust="spacing">Count (Log Scale)</text>
<rect x="527" y="196" width="18" height="1" fill="#FFD700"/>
<text x="555.3" y="202" font-size="12" fill="#000" textLength="60.2" lengthAdjust="spacing">CDC Tests</text>
<rect x="527" y="219" width="18" height="1" fill="#00FF00"/>
<text x="555.3" y="225" font-size="12" fill="#000" textLength="100.9" lengthAdjust="spacing">Commercial Tests</text>
<rect x="527" y="242" width="18" height="1" fill="#000000"/>
<text x="555.3" y="248" font-size="12" fill="#000" textLength="100" lengthAdjust="spacing">Government Tests</text>
<rect x="527" y="265" width="18" height="1" fill="#0000FF"/>
<text x="555.3" y="271" font-size="12" fill="#000" textLength="60" lengthAdjust="spacing">Total Tests</text>
</svg>
</body></html>
